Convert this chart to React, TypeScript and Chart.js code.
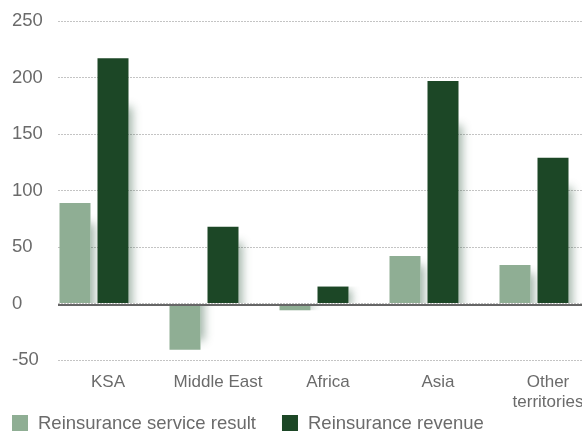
import React, { useEffect, useRef } from "react";
import { Chart, registerables } from "chart.js";

Chart.register(...registerables);

const categories: (string | string[])[] = ["KSA", "Middle East", "Africa", "Asia", ["Other", "territories"]];
const serviceResult = [89, -41, -6, 42, 34];
const revenue = [217, 68, 15, 197, 129];
const seriesNames = ["Reinsurance service result", "Reinsurance revenue"];
const seriesColors = ["#8fae94", "#1c4726"];
const yMin = -50;
const yMax = 250;
const yStep = 50;

const FONT = "'Liberation Sans', Arial, Helvetica, sans-serif";
const TEXT = "#6b6b6b";

const shadowPlugin = {
  id: "barShadow",
  beforeDatasetsDraw(chart: any) {
    const ctx = chart.ctx;
    [0, 1].forEach((i) => {
      const meta = chart.getDatasetMeta(i);
      meta.data.forEach((el: any) => {
        const { x, y, base, width } = el.getProps(["x", "y", "base", "width"], true);
        const top = Math.min(y, base);
        const bot = Math.max(y, base);
        const h = bot - top;
        if (h < 1) return;
        const right = x + width / 2;
        ctx.save();
        ctx.beginPath();
        ctx.rect(right, top, 18, h);
        ctx.clip();
        const shift = y < base ? h * 0.2 : -h * 0.2;
        ctx.shadowColor = "rgba(25,70,40,0.42)";
        ctx.shadowBlur = 9;
        ctx.shadowOffsetX = 10000 + 3;
        ctx.shadowOffsetY = shift;
        ctx.fillStyle = "#000";
        ctx.fillRect(x - width / 2 - 10000, top, width, h);
        ctx.restore();
      });
    });
  },
  afterDatasetsDraw(chart: any) {
    const ctx = chart.ctx;
    const y = Math.round(chart.scales.y.getPixelForValue(0)) + 1;
    const { left, right } = chart.chartArea;
    ctx.save();
    ctx.strokeStyle = "#666666";
    ctx.lineWidth = 2;
    ctx.beginPath();
    ctx.moveTo(left, y);
    ctx.lineTo(right, y);
    ctx.stroke();
    ctx.restore();
  },
};

const legendPlugin = {
  id: "customLegend",
  afterDraw(chart: any) {
    const ctx = chart.ctx;
    ctx.save();
    ctx.font = `18.5px ${FONT}`;
    ctx.textBaseline = "middle";
    ctx.textAlign = "left";
    let x = 12;
    const y = 415;
    const box = 16;
    seriesNames.forEach((name, i) => {
      ctx.fillStyle = seriesColors[i];
      ctx.fillRect(x, y, box, box);
      ctx.fillStyle = TEXT;
      ctx.fillText(name, x + box + 10, y + box / 2 + 1);
      x += box + 10 + ctx.measureText(name).width + 26;
    });
    ctx.restore();
  },
};

export default function App() {
  const ref = useRef<HTMLCanvasElement | null>(null);
  useEffect(() => {
    if (!ref.current) return;
    const chart = new Chart(ref.current, {
      type: "bar",
      data: {
        labels: categories as any,
        datasets: [
          { label: seriesNames[0], data: serviceResult, backgroundColor: seriesColors[0] },
          { label: seriesNames[1], data: revenue, backgroundColor: seriesColors[1] },
          { label: "_spacer", data: [], backgroundColor: "rgba(0,0,0,0)" },
        ],
      },
      options: {
        responsive: false,
        animation: false,
        devicePixelRatio: 1,
        categoryPercentage: 1.0364,
        barPercentage: 0.8158,
        layout: { padding: { left: 12, right: 12, top: 21, bottom: 0 } },
        plugins: { legend: { display: false }, tooltip: { enabled: false } },
        scales: {
          x: {
            grid: { display: false, drawTicks: false },
            border: { display: false },
            ticks: {
              color: TEXT,
              font: { family: FONT, size: 17 },
              padding: 12,
              labelOffset: -5,
              maxRotation: 0,
              autoSkip: false,
            },
            afterFit(scale: any) {
              scale.height = 72;
            },
          },
          y: {
            min: yMin,
            max: yMax,
            grid: { color: "#c4c4c4", lineWidth: 1, drawTicks: false },
            border: { display: false, dash: [2, 1] },
            ticks: {
              stepSize: yStep,
              color: TEXT,
              font: { family: FONT, size: 18.5 },
              crossAlign: "far",
              padding: 0,
            },
            afterFit(scale: any) {
              scale.width = 46;
            },
          },
        },
      } as any,
      plugins: [shadowPlugin, legendPlugin],
    });
    return () => chart.destroy();
  }, []);
  return (
    <div style={{ position: "fixed", left: 0, top: 0, width: 582, height: 432, overflow: "hidden", background: "#fff" }}>
      <canvas ref={ref} width={620} height={432} style={{ width: 620, height: 432, display: "block" }} />
    </div>
  );
}
